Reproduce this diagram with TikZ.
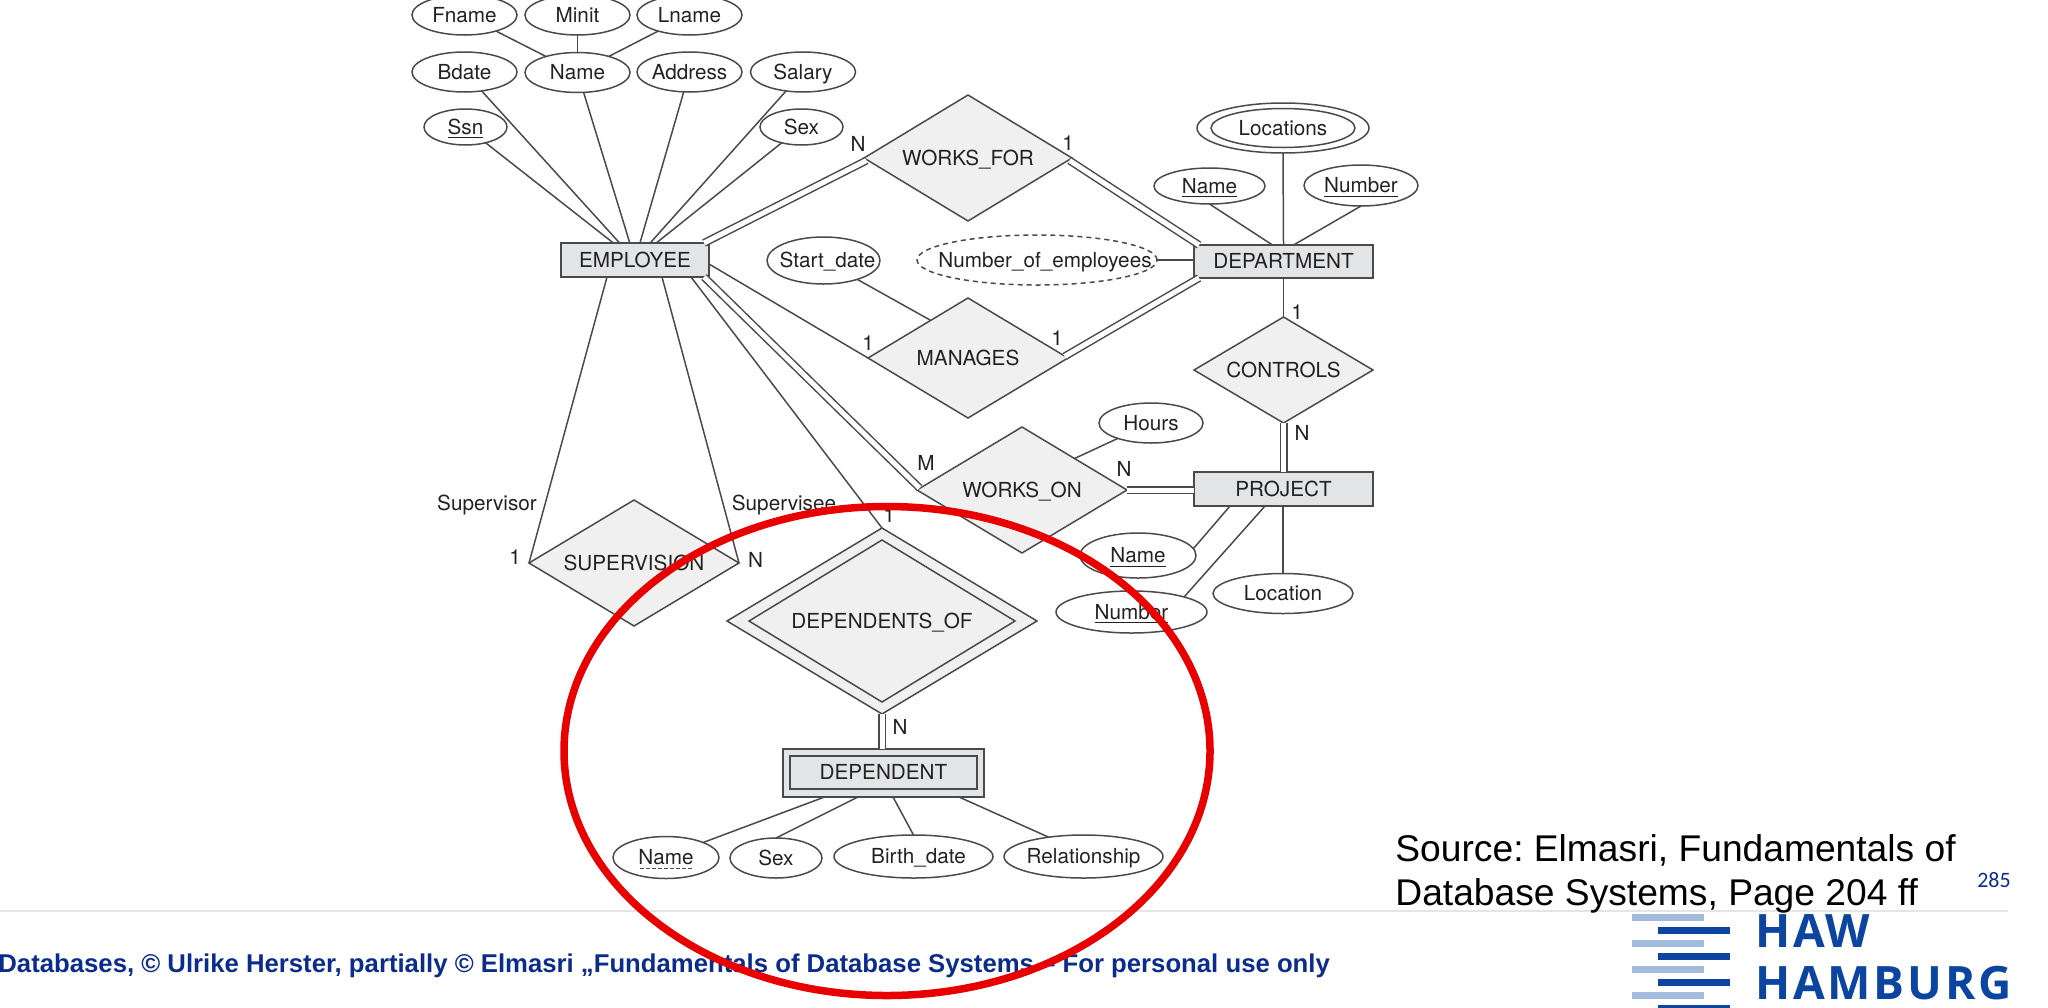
\documentclass[tikz,border=0pt]{standalone}
\usepackage{fontspec}
\setmainfont{TeX Gyre Heros}
\newfontfamily\arialfont{Liberation Sans}
\newfontfamily\pagefont{Carlito}
\newfontfamily\logofont[LetterSpace=6]{Open Sans}
\usetikzlibrary{shapes.geometric}
\definecolor{linegray}{HTML}{4A4A4A}
\definecolor{textdark}{HTML}{222222}
\definecolor{relfill}{HTML}{F0F0F0}
\definecolor{entfill}{HTML}{E3E4E6}
\definecolor{circred}{HTML}{E80000}
\definecolor{footblue}{HTML}{0C2C8C}
\definecolor{logodark}{HTML}{0B45A0}
\definecolor{logolight}{HTML}{A3BBDC}
\newcommand{\nt}[1]{\makebox[0pt]{#1}}
\tikzset{
  base/.style={draw=linegray, line width=.75pt, inner sep=0pt, outer sep=0pt, text=textdark, font=\fontsize{10.35}{12}\selectfont, text height=7.4pt, text depth=0pt},
  attr/.style 2 args={base, ellipse, minimum width=#1pt, minimum height=#2pt},
  rel/.style 2 args={base, diamond, fill=relfill, minimum width=#1pt, minimum height=#2pt},
  ent/.style 2 args={base, rectangle, fill=entfill, minimum width=#1pt, minimum height=#2pt},
  card/.style={inner sep=0pt, text=textdark, font=\fontsize{10.35}{12}\selectfont},
  conn/.style={draw=linegray, line width=.75pt},
  dbl/.style={draw=linegray, line width=.75pt, double=white, double distance=2.5pt}
}
\begin{document}
\frenchspacing
\begin{tikzpicture}[x=.5pt,y=-.5pt]
\useasboundingbox (0,0) rectangle (2048,1007);
% employee side
\node[ent={74}{17}] (emp) at (635,260) {\nt{EMPLOYEE}};
\node[attr={52.5}{20}] (fname) at (464.5,15) {\nt{Fname}};
\node[attr={52.5}{20}] (minit) at (577.5,15) {\nt{Minit}};
\node[attr={52.5}{20}] (lname) at (689.5,15) {\nt{Lname}};
\node[attr={52.5}{20}] (bdate) at (464.5,72) {\nt{Bdate}};
\node[attr={52.5}{20}] (name) at (577.5,72.5) {\nt{Name}};
\node[attr={52.5}{20}] (addr) at (689.5,72) {\nt{Address}};
\node[attr={52.5}{20}] (salary) at (803,72) {\nt{Salary}};
\node[attr={41.5}{18}] (ssn) at (465.5,127) {\nt{\underline{Ssn}}};
\node[attr={41.5}{18}] (sex) at (801.5,127) {\nt{Sex}};
% relationships
\node[rel={104}{63}] (wfor) at (968,158) {\nt{WORKS\_FOR}};
\node[rel={100}{60}] (man) at (968,358) {\nt{MANAGES}};
\node[rel={105}{63}] (won) at (1022,490) {\nt{WORKS\_ON}};
\node[rel={89.5}{53}] (ctl) at (1283.5,370) {\nt{CONTROLS}};
\node[rel={105}{63}] (sup) at (634,563) {\nt{SUPERVISION}};
\node[rel={155}{93}] (depo) at (882,621) {};
\node[rel={133}{81}] (depi) at (882,621) {\nt{DEPENDENTS\_OF}};
% department and project
\node[ent={89.5}{16.5}] (dept) at (1283.5,261.5) {\nt{DEPARTMENT}};
\node[ent={89.5}{17}] (proj) at (1283.5,489) {\nt{PROJECT}};
\node[attr={86}{25}] (loco) at (1283,128) {};
\node[attr={72}{19.5}] (loci) at (1283,128) {\nt{Locations}};
\node[attr={55.5}{18}] (dname) at (1209.5,186) {\nt{\underline{Name}}};
\node[attr={57}{20.5}] (dnum) at (1361,185.5) {\nt{\underline{Number}}};
\node[attr={120}{25}, dash pattern=on 2.5pt off 2pt] (noe) at (1037,260) {\nt{\hspace{8pt}Number\_of\_employees}};
\node[attr={56.5}{23.5}] (start) at (823.5,260.5) {\nt{\hspace{4pt}Start\_date}};
\node[attr={52}{20}] (hours) at (1151,423) {\nt{Hours}};
\node[attr={58}{22.5}] (pname) at (1138,555.5) {\nt{\underline{Name}}};
\node[attr={75.5}{21}] (pnum) at (1131.5,612) {\nt{\underline{Number}}};
\node[attr={70}{20}] (ploc) at (1283,593.5) {\nt{Location}};
% dependent
\node[ent={100.5}{24}] (depout) at (883.5,773) {};
\node[ent={93.5}{16.5}] (dep) at (883.5,772.5) {\nt{DEPENDENT}};
\node[attr={53}{21}] (dpname) at (666,857.5) {\nt{Name}};
\node[attr={46}{20}] (dpsex) at (776,858) {\nt{Sex}};
\node[attr={79.5}{21.5}] (dpbirth) at (913.5,856.5) {\nt{\hspace{5pt}Birth\_date}};
\node[attr={79.5}{21.5}] (dprel) at (1083.5,856.5) {\nt{Relationship}};
\draw[conn, dash pattern=on 1.75pt off 1.25pt, line width=.4pt] ([shift={(-26,11)}]dpname.center) -- ([shift={(26,11)}]dpname.center);
% single connectors
\foreach \a in {ssn,bdate,name,addr,salary,sex}
  \draw[conn] (\a) -- (emp);
\draw[conn] (fname) -- (name);
\draw[conn] (minit) -- (name);
\draw[conn] (lname) -- (name);
\draw[conn] ([shift={(-28,0)}]emp.south) -- (sup.west);
\draw[conn] ([shift={(27,0)}]emp.south) -- (sup.east);
\draw[conn] ([shift={(56,0)}]emp.south) -- (depo.north);
\draw[conn] ([shift={(0,4)}]emp.east) -- (man.west);
\draw[conn] (start) -- ([shift={(12,-8)}]man.north west);
\draw[conn] (noe.east) -- (noe.east -| dept.west);
\draw[conn] (loco.south) -- (dept.north);
\draw[conn] (dname.south) -- ([shift={(-11,0)}]dept.north);
\draw[conn] (dnum.south) -- ([shift={(10,0)}]dept.north);
\draw[conn] (dept.south) -- (ctl.north);
\draw[conn] (hours) -- (won.north east);
\draw[conn] (pname.7.5) -- ([shift={(36,0)}]proj.south west);
\draw[conn] (pnum.16) -- ([shift={(71,0)}]proj.south west);
\draw[conn] (ploc.north) -- (ploc.north |- proj.south);
\draw[conn] (dpname.22) -- ([shift={(41.5,0)}]depout.south west);
\draw[conn] (dpsex.north) -- ([shift={(75,0)}]depout.south west);
\draw[conn] (dpbirth.north) -- ([shift={(110,0)}]depout.south west);
\draw[conn] (dprel.151) -- ([shift={(176,0)}]depout.south west);
% total participation
\draw[dbl] ([shift={(-5,0)}]emp.north east) -- ([shift={(2.5,2.5)}]wfor.west);
\draw[dbl] ([shift={(-2.5,2.5)}]wfor.east) -- ([shift={(5,0)}]dept.north west);
\draw[dbl] ([shift={(-3.5,-1.5)}]man.east) -- ([shift={(5,0)}]dept.south west);
\draw[dbl] ([shift={(69,0)}]emp.south) -- ([shift={(2.5,-2)}]won.west);
\draw[dbl] (won.east) -- (won.east -| proj.west);
\draw[dbl] (ctl.south) -- (ctl.south |- proj.north);
\draw[dbl] (depo.south) -- (depo.south |- depout.north);
% cardinalities and roles
\node[card] (cwf1) at (858,144) {N};
\node[card] (cwf2) at (1068,143) {1};
\node[card] (cman1) at (868,343) {1};
\node[card] (cman2) at (1057,338) {1};
\node[card] (cctl1) at (1297,312) {1};
\node[card] (cctl2) at (1302,433) {N};
\node[card] (cwon1) at (926,463) {M};
\node[card] (cwon2) at (1124,469) {N};
\node[card] (rsup1) at (487,505) {Supervisor};
\node[card] (rsup2) at (784,505) {Supervisee};
\node[card] (csup1) at (515,557) {1};
\node[card] (csup2) at (755.5,560) {N};
\node[card] (cdep1) at (889,515) {1};
\node[card] (cdep2) at (900,727) {N};
% slide furniture
\draw[draw=black!10, line width=.75pt] (0,911) coordinate (ruleL) -- (2008,911) coordinate (ruleR);
\node[anchor=base west, inner sep=0pt, text=footblue, font=\arialfont\bfseries\fontsize{12.86}{15}\selectfont] (foot) at (-2,972) {Databases, © Ulrike Herster, partially © Elmasri „Fundamentals of Database Systems – For personal use only};
\node[anchor=base west, inner sep=0pt, font=\arialfont\fontsize{18.6}{22}\selectfont] (src1) at (1395,861) {Source: Elmasri, Fundamentals of};
\node[anchor=base west, inner sep=0pt, font=\arialfont\fontsize{18.6}{22}\selectfont] (src2) at (1395,905) {Database Systems, Page 204 ff};
\node[inner sep=0pt, text=footblue, font=\pagefont\fontsize{11}{13}\selectfont] (page) at (1994,880) {285};
% logo
\foreach \y in {914,940,966,992}
  \fill[logolight] (1632,\y) rectangle (1704,\y+7);
\foreach \y in {927,953,979,1005}
  \fill[logodark] (1658,\y) rectangle (1730,\y+7);
\node[anchor=base west, inner sep=0pt, text=logodark, font=\logofont\bfseries\fontsize{23}{25}\selectfont] (haw) at (1755,947) {HAW};
\node[anchor=base west, inner sep=0pt, text=logodark, font=\logofont\bfseries\fontsize{23}{25}\selectfont] (hamburg) at (1755,999) {HAMBURG};
% red circle
\draw[circred, line width=3.75pt] (887,751) ellipse (323 and 244.5);
\end{tikzpicture}
\end{document}
